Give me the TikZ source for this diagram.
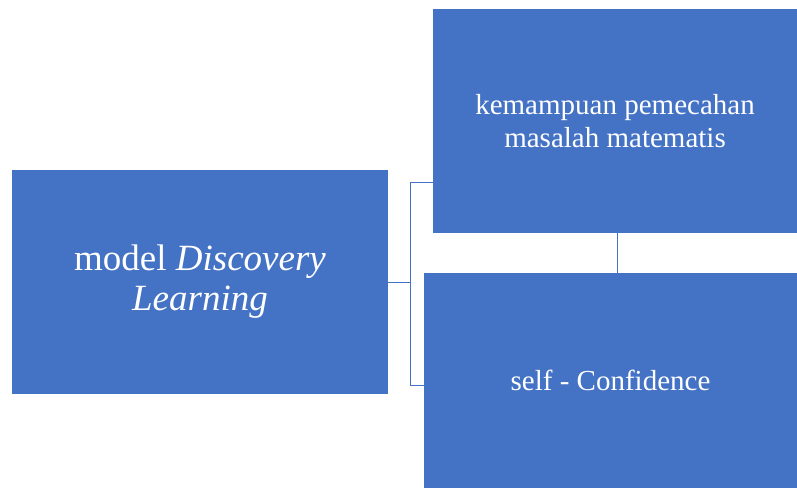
\documentclass[tikz,border=0pt]{standalone}
\usepackage{fontspec}
\setmainfont{Liberation Serif}
\usepackage{tikz}
\definecolor{OfficeBlue}{HTML}{4472C4}

\begin{document}
\begin{tikzpicture}[x=1pt, y=-1pt]
        \tikzstyle Blue Box=[fill=OfficeBlue, draw=none, text=white, align=center, inner sep=0pt, font=\fontsize{29}{33}\selectfont]
        \tikzstyle Link Line=[color=OfficeBlue, line width=1pt]

        \useasboundingbox (0, 0) rectangle (797, 488);

        \node[Blue Box, minimum width=376pt, minimum height=224pt, font=\fontsize{37}{40}\selectfont] (model) at (200, 282) {model \textit{Discovery}\\\textit{Learning}};
        \node[Blue Box, minimum width=364pt, minimum height=224pt] (masalah) at (615, 121) {kemampuan pemecahan\\masalah matematis};
        \node[Blue Box, minimum width=373pt, minimum height=215pt] (confidence) at (610.5, 380.5) {self - Confidence};

        \coordinate (top joint) at (410, 182);
        \coordinate (low joint) at (410, 385);
        \draw[Link Line] (top joint) -- (low joint);
        \draw[Link Line] (model.east) -- (model.east -| top joint);
        \draw[Link Line] (top joint) -- (top joint -| masalah.west);
        \draw[Link Line] (low joint) -- (low joint -| confidence.west);
        \draw[Link Line] ([xshift=2pt]masalah.south) -- ([xshift=2pt]masalah.south |- confidence.north);
    \end{tikzpicture}
\end{document}
